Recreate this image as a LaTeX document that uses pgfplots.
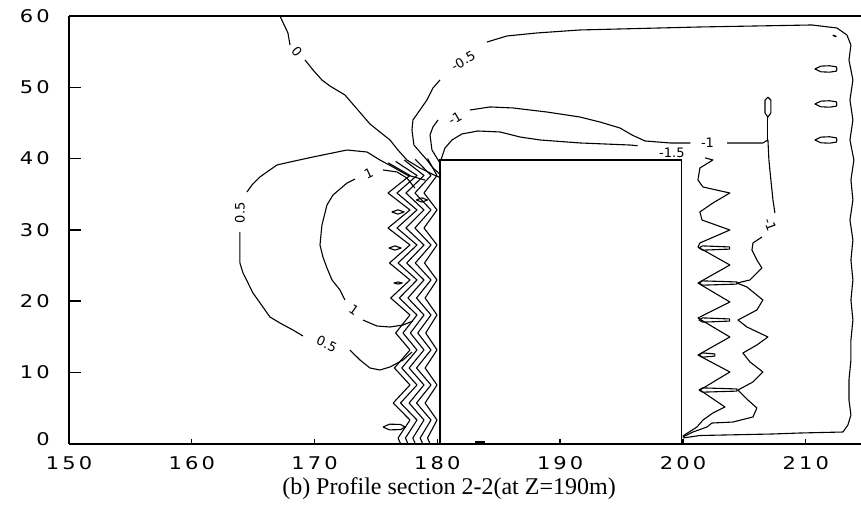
\documentclass[border=0pt]{standalone}
\usepackage{pgfplots}
\pgfplotsset{compat=1.18}
\usepackage{graphicx}
\usepackage{fontspec}
\setmainfont{Liberation Serif}
\newfontfamily\tickfont{DejaVu Sans}
\newfontfamily\labfont{DejaVu Sans}
\newcommand{\tk}[1]{{\tickfont\fontsize{17.5bp}{17.5bp}\selectfont\scalebox{1.2}[1]{#1}}}
\newcommand{\kk}{\kern2.6bp}
\tikzset{
  ct/.style={black, line width=1.1bp, line join=round},
  lab/.style={font=\labfont\fontsize{13bp}{13bp}\selectfont, inner sep=0.5bp},
}
\begin{document}
\begin{tikzpicture}
\begin{axis}[
  scale only axis, width=792bp, height=427.7bp,
  xmin=150, xmax=214.5, ymin=0, ymax=60,
  axis x line=box, axis y line=left,
  axis line style={-, line width=1.8bp},
  tick align=inside,
  xtick pos=left, ytick pos=left,
  xtick={150,160,170,180,190,200,210},
  ytick={0,10,20,30,40,50,60},
  xticklabels={\tk{1\kk5\kk0},\tk{1\kk6\kk0},\tk{1\kk7\kk0},\tk{1\kk8\kk0},\tk{1\kk9\kk0},\tk{2\kk0\kk0},\tk{2\kk1\kk0}},
  yticklabels={\raisebox{9bp}{\tk{0}},\tk{1\kk0},\tk{2\kk0},\tk{3\kk0},\tk{4\kk0},\tk{5\kk0},\tk{6\kk0}},
  xticklabel style={inner sep=0pt, yshift=-13bp},
  yticklabel style={inner sep=0pt, xshift=-19bp},
  xtick style={/pgfplots/major tick length=5bp, line width=1.4bp, black},
  ytick style={/pgfplots/major tick length=12bp, line width=1.4bp, black},
  no markers,
]
% building outline
\addplot[black, line width=1.5bp] coordinates {(180.2,0) (180.2,39.8) (199.9,39.8) (199.9,0)};
\addplot[black, line width=2bp] coordinates {(183.1,0.25) (183.9,0.25)};

% contour 0 (top left)
\addplot[ct] coordinates {(167.18,60.0) (167.83,57.62) (168.0,55.93)};
\addplot[ct] coordinates {(169.22,53.83) (169.87,52.43) (170.60,51.02) (171.25,50.18) (172.47,48.92) (173.53,46.81) (174.51,44.85) (175.32,43.73) (176.14,42.61) (176.79,41.20) (177.52,39.80) (178.58,38.68) (179.56,37.84) (180.29,37.27)};

% contour -0.5
\addplot[ct] coordinates {(180.29,37.70) (179.64,38.68) (179.15,39.80) (178.58,40.92) (178.09,41.90) (177.93,44.01) (178.01,45.41) (178.58,46.81) (179.15,48.22) (179.64,49.90) (180.21,51.02)};
\addplot[ct] coordinates {(184.04,56.35) (185.67,57.20) (188.11,57.62) (191.61,58.04) (201.38,58.46) (210.50,58.74) (212.54,58.32) (213.35,57.34) (213.68,55.93) (213.52,53.83) (213.84,51.02) (213.60,48.22) (213.84,45.41) (213.60,42.61) (213.92,39.80) (213.68,36.99) (213.84,34.19) (213.60,31.38) (213.84,28.58) (213.68,25.77) (213.84,22.97) (213.68,20.16) (213.84,17.35) (213.68,14.55) (213.68,11.74) (213.52,8.94) (213.52,6.13) (213.68,4.03) (213.43,2.62) (213.03,1.64) (209.53,1.50) (207.25,1.36) (201.38,1.15) (199.99,0.80)};

% contour -1
\addplot[ct] coordinates {(180.21,39.38) (179.56,41.20) (179.40,43.31) (179.64,44.43) (180.05,45.41)};
\addplot[ct] coordinates {(182.65,46.81) (184.28,47.24) (186.15,47.10) (188.92,46.53) (191.61,45.83) (193.24,45.13) (194.87,44.29) (195.85,43.31) (196.90,42.47) (198.94,42.19) (200.6,42.19)};
\addplot[ct] coordinates {(203.6,42.19) (206.51,42.19) (206.92,42.61) (207.00,39.80) (207.16,36.99) (207.33,34.19) (207.49,32.36)};
\addplot[ct] coordinates {(206.43,29.00) (205.70,28.16) (205.62,27.17) (206.02,25.77) (206.43,24.65) (205.46,22.97) (204.40,22.54) (205.21,21.98) (206.51,20.16) (206.02,18.76) (204.48,17.35) (205.21,16.37) (206.92,14.97) (206.02,13.85) (204.88,12.72) (205.46,11.46) (206.51,10.06) (205.70,8.66) (204.48,7.53) (205.29,6.13) (206.02,5.01) (205.70,3.75) (204.07,3.04) (202.36,2.90) (201.95,2.34) (200.81,1.64) (199.99,0.94)};
\addplot[ct] coordinates {(206.92,42.61) (206.92,45.83)};
\addplot[ct] coordinates {(206.92,45.81) (207.16,46.4) (207.16,48.2) (206.92,48.61) (206.68,48.2) (206.68,46.4) (206.92,45.81)};

% contour -1.5
\addplot[ct] coordinates {(180.29,39.80) (180.62,41.48) (181.19,42.61) (182.00,43.45) (183.30,43.87) (185.10,43.73) (186.72,43.03) (188.35,42.61) (191.61,42.19) (195.68,41.90) (196.3,41.8)};
\addplot[ct] coordinates {(201.8,40.1) (202.44,39.80) (201.38,38.68) (201.22,36.99) (201.63,36.01) (203.82,35.17) (202.44,33.77) (201.38,32.51) (201.55,31.38) (203.82,29.98) (201.38,28.16) (201.22,27.59) (203.82,25.07) (201.22,22.54) (203.82,19.88) (201.22,17.63) (203.82,14.97) (201.22,12.44) (203.82,10.06) (201.38,7.53) (203.42,5.15) (202.44,4.31) (201.63,3.32) (201.14,2.34) (199.99,1.08)};
% tongues
\addplot[ct] coordinates {(201.3,27.45) (201.6,27.75) (203.8,27.6) (203.8,27.3) (201.6,27.15) (201.3,27.45)};
\addplot[ct] coordinates {(201.3,22.54) (201.6,22.84) (204.4,22.69) (204.4,22.39) (201.6,22.24) (201.3,22.54)};
\addplot[ct] coordinates {(201.3,17.35) (201.6,17.65) (203.8,17.5) (203.8,17.2) (201.6,17.05) (201.3,17.35)};
\addplot[ct] coordinates {(201.3,12.44) (201.6,12.74) (202.6,12.59) (202.6,12.29) (201.6,12.14) (201.3,12.44)};
\addplot[ct] coordinates {(201.3,7.53) (201.6,7.83) (204.4,7.68) (204.4,7.38) (201.6,7.23) (201.3,7.53)};

% right ovals
\addplot[ct] coordinates {(210.74,52.57) (211.24,52.97) (211.94,53.02) (212.49,52.87) (212.54,52.57) (212.49,52.27) (211.94,52.12) (211.24,52.17) (210.74,52.57)};
\addplot[ct] coordinates {(210.74,47.66) (211.24,48.06) (211.94,48.11) (212.49,47.96) (212.54,47.66) (212.49,47.36) (211.94,47.21) (211.24,47.26) (210.74,47.66)};
\addplot[ct] coordinates {(210.74,42.61) (211.24,43.01) (211.94,43.06) (212.49,42.91) (212.54,42.61) (212.49,42.31) (211.94,42.16) (211.24,42.21) (210.74,42.61)};
\addplot[black, line width=1.5bp] coordinates {(212.2,57.3) (212.5,57.1)};

% contour 0.5 (left loop)
\addplot[ct] coordinates {(178.99,36.99) (177.52,37.70) (176.38,38.82) (175.32,39.80) (174.27,40.92) (172.64,41.20) (169.87,40.22) (168.00,39.52) (166.94,39.10) (166.12,38.12) (165.55,37.42) (164.90,36.29) (164.49,35.31)};
\addplot[ct] coordinates {(163.92,29.70) (163.92,27.17) (163.92,25.35) (164.17,23.95) (164.58,22.54) (164.98,21.14) (165.39,20.16) (165.96,18.76) (166.37,17.77) (167.18,16.93) (168.24,15.95) (169.05,15.11)};
\addplot[ct] coordinates {(172.88,13.14) (173.70,11.74) (174.51,10.62) (175.32,10.34) (176.14,10.76) (177.20,11.74) (177.93,12.86)};

% contour 1 (inner loop)
\addplot[ct] coordinates {(178.17,35.87) (177.52,37.27) (176.71,38.12) (175.57,38.40)};
\addplot[ct] coordinates {(173.29,37.13) (172.64,36.57) (171.50,34.89) (171.01,33.49) (170.60,30.68) (170.44,27.88) (170.68,26.19) (171.01,24.65) (171.42,22.97) (172.07,21.56) (172.47,20.16)};
\addplot[ct] coordinates {(173.94,17.35) (175.08,16.51) (176.14,16.37) (177.20,16.65) (178.01,17.21)};

% dense zigzag contours near the windward wall
\addplot[ct] coordinates {(176.0,39.4) (177.77,37.63) (175.98,35.17) (177.77,32.79) (175.98,30.26) (177.77,27.88) (176.1,25.35) (177.77,22.97) (176.2,20.44) (177.77,18.06) (176.6,15.53) (177.77,13.15) (176.5,10.62) (177.77,8.24) (176.4,5.71) (177.77,3.32) (176.8,0.80) (177.0,0)};
\addplot[ct] coordinates {(176.6,39.6) (178.34,37.63) (176.71,35.17) (178.34,32.79) (176.71,30.26) (178.34,27.88) (176.8,25.35) (178.34,22.97) (176.9,20.44) (178.34,18.06) (177.2,15.53) (178.34,13.15) (177.1,10.62) (178.34,8.24) (177.0,5.71) (178.34,3.32) (177.4,0.80) (177.6,0)};
\addplot[ct] coordinates {(177.3,39.8) (178.91,37.63) (177.44,35.17) (178.91,32.79) (177.44,30.26) (178.91,27.88) (177.5,25.35) (178.91,22.97) (177.6,20.44) (178.91,18.06) (177.8,15.53) (178.91,13.15) (177.7,10.62) (178.91,8.24) (177.7,5.71) (178.91,3.32) (178.0,0.80) (178.2,0)};
\addplot[ct] coordinates {(178.2,39.9) (179.48,37.63) (178.17,35.17) (179.48,32.79) (178.17,30.26) (179.48,27.88) (178.2,25.35) (179.48,22.97) (178.3,20.44) (179.48,18.06) (178.4,15.53) (179.48,13.15) (178.3,10.62) (179.48,8.24) (178.3,5.71) (179.48,3.32) (178.6,0.80) (178.8,0)};
\addplot[ct] coordinates {(179.2,40.0) (179.97,37.63) (178.91,35.17) (179.97,32.79) (178.91,30.26) (179.97,27.88) (178.95,25.35) (179.97,22.97) (179.0,20.44) (179.97,18.06) (179.05,15.53) (179.97,13.15) (179.0,10.62) (179.97,8.24) (179.0,5.71) (179.97,3.32) (179.2,0.80) (179.4,0)};

% small closed contours left
\addplot[ct] coordinates {(176.29,32.51) (176.79,32.81) (177.29,32.51) (176.79,32.21) (176.29,32.51)};
\addplot[ct] coordinates {(176.05,27.45) (176.55,27.75) (177.05,27.45) (176.55,27.15) (176.05,27.45)};
\addplot[ct] coordinates {(176.44,22.54) (176.79,22.69) (177.14,22.54) (176.79,22.39) (176.44,22.54)};
\addplot[ct] coordinates {(175.57,2.34) (176.1,2.74) (177.0,2.70) (177.37,2.34) (177.0,1.98) (176.1,1.94) (175.57,2.34)};
\addplot[ct] coordinates {(178.29,34.19) (178.74,34.49) (179.19,34.19) (178.74,33.89) (178.29,34.19)};

% contour labels
\node[lab, rotate=-50] at (axis cs:168.57,54.96) {0};
\node[lab, rotate=30] at (axis cs:182.1,53.7) {-0.5};
\node[lab, rotate=30] at (axis cs:181.43,45.6) {-1};
\node[lab] at (axis cs:202.0,42.19) {-1};
\node[lab] at (axis cs:199.1,40.8) {-1.5};
\node[lab, rotate=-70] at (axis cs:207.1,30.68) {-1};
\node[lab, rotate=90] at (axis cs:163.92,32.4) {0.5};
\node[lab, rotate=-25] at (axis cs:171.0,14.0) {0.5};
\node[lab, rotate=25] at (axis cs:174.4,37.9) {1};
\node[lab, rotate=-35] at (axis cs:173.2,18.76) {1};
\end{axis}
\node[anchor=base, font=\fontsize{24bp}{24bp}\selectfont] at (380bp,-51bp) {(b) Profile section 2-2(at Z=190m)};
\pgfresetboundingbox
\useasboundingbox (-69bp,-62.3bp) rectangle (792bp,443.7bp);
\end{tikzpicture}
\end{document}
